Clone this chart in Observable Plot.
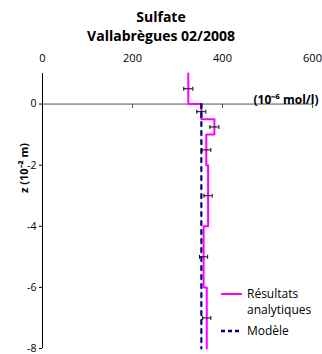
<!DOCTYPE html>
<html>
<head>
<meta charset="utf-8">
<script src="https://cdn.jsdelivr.net/npm/d3@7"></script>
<script src="https://cdn.jsdelivr.net/npm/@observablehq/plot@0.6"></script>
<style>
  body { margin: 0; background: white; }
  #wrap { position: relative; width: 322px; height: 354px; font-family: "Open Sans", sans-serif; color: black; }
  #title { text-align: center; font-weight: bold; font-size: 14px; line-height: 19px; padding-top: 7px; height: 38px; }
  #legend { position: absolute; left: 221px; top: 286px; font-size: 12px; line-height: 16px; }
  .item { display: flex; align-items: flex-start; }
  .item svg { flex: none; }
  .item span { margin-left: 4px; }
</style>
</head>
<body>
<div id="wrap">
  <div id="title"></div>
  <div id="chart"></div>
  <div id="legend"></div>
</div>
<script>
const titleLines = ["Sulfate", "Vallabrègues 02/2008"];
const xTicks = [0, 200, 400, 600];
const yTicks = [0, -2, -4, -6, -8];
const xLabel = "(10⁻⁶ mol/l)";
const yLabel = "z (10⁻² m)";

// Analytical results: step profile by layer
const layerTop    = [1, 0, -0.5, -1, -2, -4, -6];
const layerBottom = [0, -0.5, -1, -2, -4, -6, -8];
const layerValue  = [324, 353, 382, 364, 368, 358, 365];

// Measured points with error bars
const measDepth = [0.5, -0.25, -0.75, -1.5, -3, -5, -7];
const measValue = [324, 353, 382, 364, 368, 358, 365];
const measError = [10, 10, 10, 10, 9, 9, 9];

// Model
const modelDepth = [0, -8];
const modelValue = [353, 353];

const legendLabels = ["Résultats<br>analytiques", "Modèle"];

const magenta = "#FF00FF";
const navy = "#000080";

document.getElementById("title").innerHTML = titleLines.join("<br>");

const profile = [];
layerValue.forEach((v, i) => {
  profile.push({x: v, z: layerTop[i]});
  profile.push({x: v, z: layerBottom[i]});
});
const model = modelDepth.map((z, i) => ({x: modelValue[i], z}));
const meas = measDepth.map((z, i) => ({z, v: measValue[i], e: measError[i]}));
const caps = meas.flatMap(d => [{x: d.v - d.e, z: d.z}, {x: d.v + d.e, z: d.z}]);

const vbar = {
  draw(ctx, size) {
    const h = Math.sqrt(size / Math.PI);
    ctx.moveTo(0, -h);
    ctx.lineTo(0, h);
  }
};

const chart = Plot.plot({
  width: 322,
  height: 309,
  marginLeft: 42,
  marginRight: 10,
  marginTop: 28,
  marginBottom: 6,
  style: {fontFamily: "Open Sans, sans-serif", fontSize: "11px", color: "black", background: "white", overflow: "visible"},
  x: {domain: [0, 600]},
  y: {domain: [-8, 1]},
  marks: [
    Plot.axisX({anchor: "top", ticks: xTicks, tickSize: 0, tickPadding: 12, label: null, tickFormat: d => String(d)}),
    Plot.axisY({ticks: yTicks, tickSize: 3, tickPadding: 3, label: null, tickFormat: d => String(d), fontSize: 10.5}),
    Plot.ruleY([0], {stroke: "#555", strokeWidth: 1}),
    Plot.ruleX([0], {stroke: "black", strokeWidth: 1}),
    Plot.dot(xTicks.slice(1), {x: d => d, y: 0, symbol: vbar, r: 2, dy: 2, stroke: "#555", fill: "none", strokeWidth: 1}),
    Plot.line(profile, {x: "x", y: "z", stroke: magenta, strokeWidth: 2}),
    Plot.line(model, {x: "x", y: "z", stroke: navy, strokeWidth: 2.2, strokeDasharray: "4,5"}),
    Plot.ruleY(meas, {y: "z", x1: d => d.v - d.e, x2: d => d.v + d.e, stroke: "black", strokeWidth: 1}),
    Plot.dot(caps, {x: "x", y: "z", symbol: vbar, r: 2, stroke: "black", fill: "none", strokeWidth: 1}),
    Plot.text([xLabel], {frameAnchor: "top-right", dx: 6, dy: 22, textAnchor: "end", fontWeight: "bold", fontSize: 12}),
    Plot.text([yLabel], {frameAnchor: "left", dx: -18, dy: -18, rotate: -90, fontWeight: "bold", fontSize: 11})
  ]
});
document.getElementById("chart").appendChild(chart);

const legendStyles = [
  {stroke: magenta, width: 2, dash: null},
  {stroke: navy, width: 2.5, dash: "4,3"}
];
const legend = document.getElementById("legend");
legendLabels.forEach((lab, i) => {
  const s = legendStyles[i];
  const item = document.createElement("div");
  item.className = "item";
  if (i > 0) item.style.marginTop = "5px";
  item.innerHTML = `<svg width="22" height="16"><line x1="0" x2="21" y1="8" y2="8" stroke="${s.stroke}" stroke-width="${s.width}" ${s.dash ? `stroke-dasharray="${s.dash}"` : ""}/></svg><span>${lab}</span>`;
  legend.appendChild(item);
});
</script>
</body>
</html>
